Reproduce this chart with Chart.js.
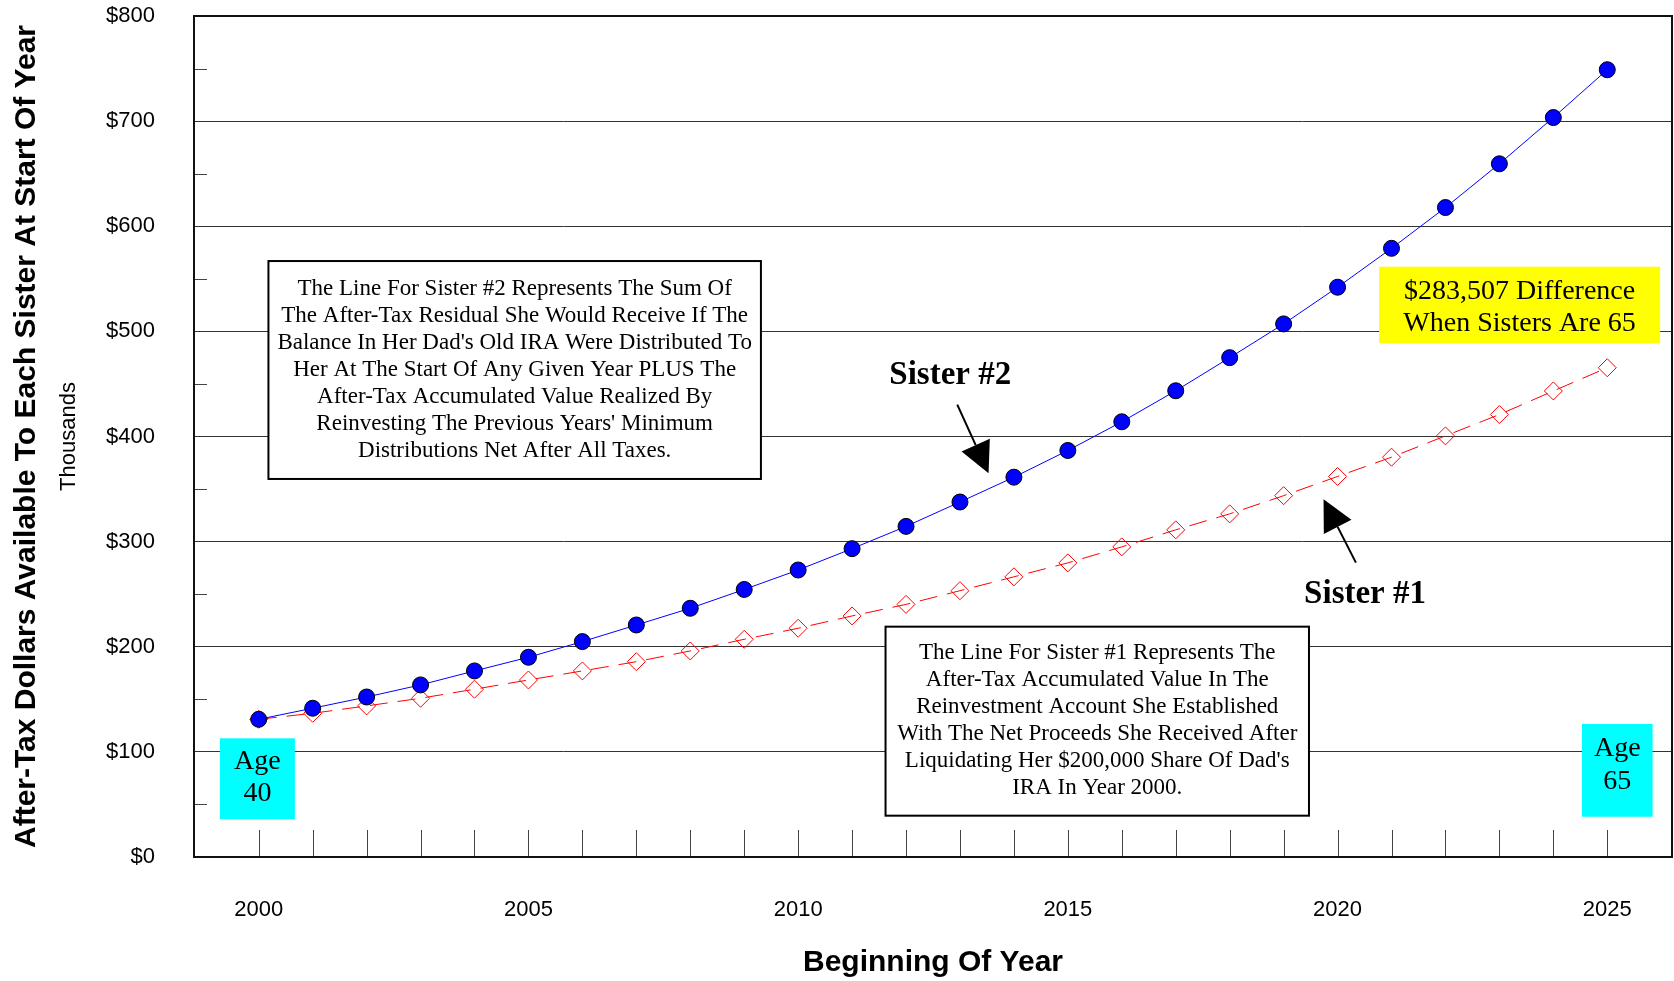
<!DOCTYPE html>
<html>
<head>
<meta charset="utf-8">
<title>After-Tax Dollars Available To Each Sister</title>
<script src="https://cdn.jsdelivr.net/npm/chart.js@4.4.1/dist/chart.umd.min.js"></script>
<style>
  html, body { margin: 0; padding: 0; background: #fff; }
  #wrap { width: 1674px; height: 981px; }
</style>
</head>
<body>
<div id="wrap"><canvas id="chart" width="1674" height="981"></canvas></div>
<script>
// Beginning of year, values in thousands of dollars
const years = [2000, 2001, 2002, 2003, 2004, 2005, 2006, 2007, 2008, 2009, 2010, 2011, 2012,
               2013, 2014, 2015, 2016, 2017, 2018, 2019, 2020, 2021, 2022, 2023, 2024, 2025];
const sister2Values = [131, 141.5, 152.2, 163.7, 177, 190, 204.9, 220.7, 236.6, 254.5, 273, 293.3, 314.5,
                       337.7, 361.3, 386.7, 414, 443.5, 475, 507.1, 542, 579, 617.8, 659.4, 703.4, 748.9];
const sister1Values = [131, 136.7, 143.7, 151, 159.6, 168.4, 177, 185.8, 196, 207.1, 217.6, 229.3, 240.3,
                       253.3, 266.5, 279.8, 295, 311.2, 326.4, 343.7, 362, 380.3, 400.6, 420.9, 443.3, 465.4];
const yearTickLabels = [2000, 2005, 2010, 2015, 2020, 2025];
const dollarTicks = [0, 100, 200, 300, 400, 500, 600, 700, 800];
const dollarMinorTicks = [50, 150, 250, 350, 450, 550, 650, 750];

const SANS = '"Liberation Sans", Arial, sans-serif';
const SERIF = '"Liberation Serif", "Times New Roman", serif';

// Text boxes, anchored in data units (year, $ thousands)
const noteBoxes = [
    {
        x0: 2000.18, x1: 2009.31, y0: 566.9, y1: 359.6,
        fill: '#ffffff', border: '#000', font: '23px ' + SERIF, first: 28.3, step: 26.9,
        lines: ['The Line For Sister #2 Represents The Sum Of',
                'The After-Tax Residual She Would Receive If The',
                "Balance In Her Dad's Old IRA Were Distributed To",
                'Her At The Start Of Any Given Year PLUS The',
                'After-Tax Accumulated Value Realized By',
                "Reinvesting The Previous Years' Minimum",
                'Distributions Net After All Taxes.']
    },
    {
        x0: 2011.62, x1: 2019.47, y0: 219.1, y1: 39.3,
        fill: '#ffffff', border: '#000', font: '23px ' + SERIF, first: 26.7, step: 27,
        lines: ['The Line For Sister #1 Represents The',
                'After-Tax Accumulated Value In The',
                'Reinvestment Account She Established',
                'With The Net Proceeds She Received After',
                "Liquidating Her $200,000 Share Of Dad's",
                'IRA In Year 2000.']
    },
    {
        x0: 2020.77, x1: 2025.98, y0: 561.5, y1: 488.7,
        fill: '#ffff00', border: null, font: '28px ' + SERIF, first: 25, step: 31.6,
        lines: ['$283,507 Difference', 'When Sisters Are 65']
    },
    {
        x0: 1999.28, x1: 2000.67, y0: 112.9, y1: 35.9,
        fill: '#00ffff', border: null, font: '28px ' + SERIF, first: 23.4, step: 31.6,
        lines: ['Age', '40']
    },
    {
        x0: 2024.53, x1: 2025.84, y0: 126.5, y1: 38.3,
        fill: '#00ffff', border: null, font: '28px ' + SERIF, first: 24.3, step: 33,
        lines: ['Age', '65']
    }
];

const seriesLabels = [
    { text: 'Sister #2', x: 2012.82, y: 457.6, tail: [2012.95, 430.3], tip: [2013.53, 365.0] },
    { text: 'Sister #1', x: 2020.51, y: 249.5, tail: [2020.34, 280.0], tip: [2019.74, 340.3] }
];

// frame, inward tick marks, notes and arrows
const decorations = {
    id: 'decorations',
    beforeDatasetsDraw(chart) {
        const ctx = chart.ctx;
        const area = chart.chartArea;
        const xs = chart.scales.x;
        const ys = chart.scales.y;

        ctx.save();
        // year tick marks, pointing up from the bottom axis
        ctx.strokeStyle = '#444';
        ctx.lineWidth = 1;
        ctx.beginPath();
        years.forEach(function(yr) {
            const px = Math.round(xs.getPixelForValue(yr)) + 0.5;
            ctx.moveTo(px, area.bottom);
            ctx.lineTo(px, area.bottom - 27);
        });
        // minor dollar ticks on the left
        dollarMinorTicks.forEach(function(v) {
            const py = Math.round(ys.getPixelForValue(v)) + 0.5;
            ctx.moveTo(area.left, py);
            ctx.lineTo(area.left + 13, py);
        });
        ctx.stroke();

        // plot frame
        ctx.strokeStyle = '#111';
        ctx.lineWidth = 2;
        ctx.strokeRect(area.left, area.top, area.right - area.left, area.bottom - area.top);

        // note boxes
        noteBoxes.forEach(function(b) {
            const left = xs.getPixelForValue(b.x0);
            const right = xs.getPixelForValue(b.x1);
            const top = ys.getPixelForValue(b.y0);
            const bottom = ys.getPixelForValue(b.y1);
            ctx.fillStyle = b.fill;
            ctx.fillRect(left, top, right - left, bottom - top);
            if (b.border) {
                ctx.strokeStyle = b.border;
                ctx.lineWidth = 2;
                ctx.strokeRect(left, top, right - left, bottom - top);
            }
            ctx.fillStyle = '#000';
            ctx.font = b.font;
            ctx.textAlign = 'center';
            ctx.textBaseline = 'middle';
            b.lines.forEach(function(line, i) {
                ctx.fillText(line, (left + right) / 2, top + b.first + i * b.step);
            });
        });

        // series labels with arrows
        seriesLabels.forEach(function(s) {
            ctx.fillStyle = '#000';
            ctx.font = 'bold 33px ' + SERIF;
            ctx.textAlign = 'center';
            ctx.textBaseline = 'middle';
            ctx.fillText(s.text, xs.getPixelForValue(s.x), ys.getPixelForValue(s.y));

            const tx = xs.getPixelForValue(s.tail[0]), ty = ys.getPixelForValue(s.tail[1]);
            const hx = xs.getPixelForValue(s.tip[0]), hy = ys.getPixelForValue(s.tip[1]);
            const len = Math.hypot(hx - tx, hy - ty);
            const ux = (hx - tx) / len, uy = (hy - ty) / len;
            const headLen = 31, headHalf = 15.5;
            const bx = hx - ux * headLen, by = hy - uy * headLen;
            ctx.strokeStyle = '#000';
            ctx.lineWidth = 2;
            ctx.beginPath();
            ctx.moveTo(tx, ty);
            ctx.lineTo(bx, by);
            ctx.stroke();
            ctx.beginPath();
            ctx.moveTo(hx, hy);
            ctx.lineTo(bx - uy * headHalf, by + ux * headHalf);
            ctx.lineTo(bx + uy * headHalf, by - ux * headHalf);
            ctx.closePath();
            ctx.fill();
        });

        // "Thousands" under the axis title
        ctx.translate(69, (area.top + area.bottom) / 2);
        ctx.rotate(-Math.PI / 2);
        ctx.font = '22px ' + SANS;
        ctx.textAlign = 'center';
        ctx.textBaseline = 'middle';
        ctx.fillStyle = '#000';
        ctx.fillText('Thousands', 0, 0);
        ctx.restore();
    }
};

Chart.defaults.font.family = SANS;
Chart.defaults.color = '#000';

const chart = new Chart(document.getElementById('chart').getContext('2d'), {
    type: 'line',
    data: {
        datasets: [{
            label: 'Sister #2',
            data: years.map((yr, i) => ({ x: yr, y: sister2Values[i] })),
            borderColor: '#0000ff',
            borderWidth: 1,
            pointStyle: 'circle',
            pointRadius: 8,
            pointBackgroundColor: '#0000ff',
            pointBorderColor: '#000',
            pointBorderWidth: 1,
            order: 1
        }, {
            label: 'Sister #1',
            data: years.map((yr, i) => ({ x: yr, y: sister1Values[i] })),
            borderColor: '#ff0000',
            borderWidth: 1,
            borderDash: [18, 10],
            pointStyle: 'rectRot',
            pointRadius: 9,
            pointBackgroundColor: 'rgba(0,0,0,0)',
            pointBorderColor: '#ff0000',
            pointBorderWidth: 1,
            order: 2
        }]
    },
    options: {
        responsive: false,
        animation: false,
        devicePixelRatio: 1,
        layout: { autoPadding: false, padding: { top: 16, right: 2, left: 0, bottom: 0 } },
        plugins: {
            legend: { display: false },
            tooltip: { enabled: false }
        },
        scales: {
            x: {
                type: 'linear',
                min: 1998.8,
                max: 2026.2,
                afterBuildTicks: function(scale) {
                    scale.ticks = yearTickLabels.map(v => ({ value: v }));
                },
                afterFit: function(scale) {
                    scale.height = 124;
                    scale.paddingLeft = 0;
                    scale.paddingRight = 0;
                },
                grid: { display: false, drawTicks: false },
                border: { display: false },
                ticks: {
                    padding: 40,
                    autoSkip: false,
                    maxRotation: 0,
                    font: { size: 22 },
                    callback: v => String(v)
                },
                title: {
                    display: true,
                    text: 'Beginning Of Year',
                    font: { size: 30, weight: 'bold' },
                    padding: { top: 0, bottom: 0 }
                }
            },
            y: {
                min: 0,
                max: 800,
                afterBuildTicks: function(scale) {
                    scale.ticks = dollarTicks.map(v => ({ value: v }));
                },
                afterFit: function(scale) {
                    scale.width = 194;
                    scale.paddingTop = 0;
                    scale.paddingBottom = 0;
                },
                grid: { color: '#333', lineWidth: 1, drawTicks: false },
                border: { display: false },
                ticks: {
                    padding: 39,
                    font: { size: 22 },
                    callback: v => '$' + v
                },
                title: {
                    display: true,
                    text: 'After-Tax Dollars Available To Each Sister At Start Of Year',
                    font: { size: 30, weight: 'bold' },
                    padding: { top: 9, bottom: 0 }
                }
            }
        }
    },
    plugins: [decorations]
});
</script>
</body>
</html>
